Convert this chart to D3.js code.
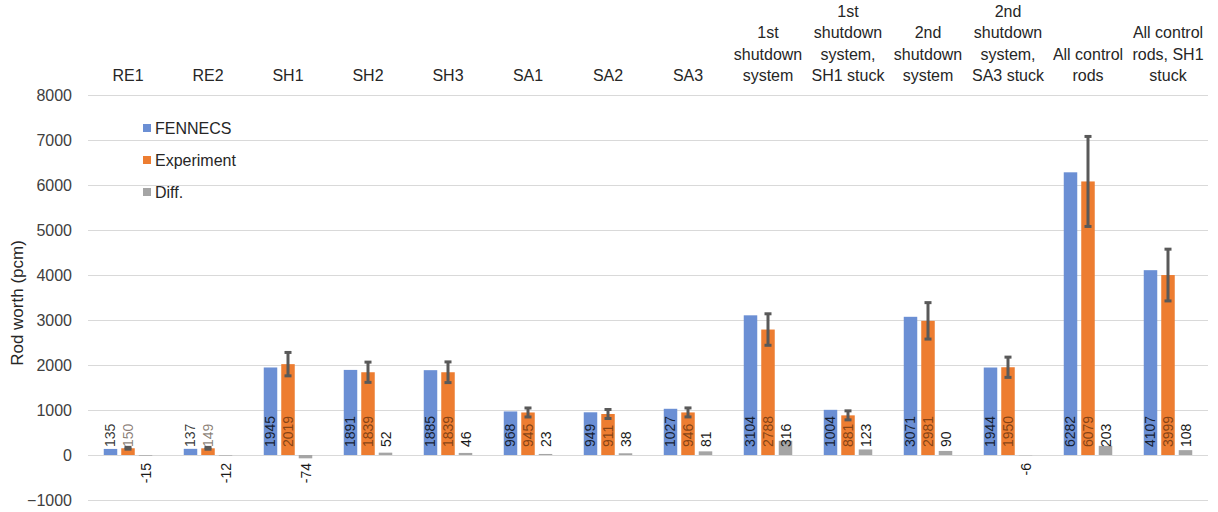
<!DOCTYPE html>
<html>
<head>
<meta charset="utf-8">
<script src="https://cdn.jsdelivr.net/npm/d3@7"></script>
<style>
  html, body { margin: 0; padding: 0; background: #fff; }
  svg { display: block; font-family: "Liberation Sans", Arial, sans-serif; }
</style>
</head>
<body>
<svg id="chart" width="1218" height="512"></svg>
<script>
// ---------- data ----------
const categories = ["RE1","RE2","SH1","SH2","SH3","SA1","SA2","SA3",
  "1st shutdown system","1st shutdown system, SH1 stuck",
  "2nd shutdown system","2nd shutdown system, SA3 stuck",
  "All control rods","All control rods, SH1 stuck"];
const categoryLines = [
  ["RE1"],["RE2"],["SH1"],["SH2"],["SH3"],["SA1"],["SA2"],["SA3"],
  ["1st","shutdown","system"],
  ["1st","shutdown","system,","SH1 stuck"],
  ["2nd","shutdown","system"],
  ["2nd","shutdown","system,","SA3 stuck"],
  ["All control","rods"],
  ["All control","rods, SH1","stuck"]
];
const seriesNames = ["FENNECS","Experiment","Diff."];
const fennecs    = [135,137,1945,1891,1885,968,949,1027,3104,1004,3071,1944,6282,4107];
const experiment = [150,149,2019,1839,1839,945,911,946,2788,881,2981,1950,6079,3999];
const diff       = [-15,-12,-74,52,46,23,38,81,316,123,90,-6,203,108];
const expError   = [20,20,260,225,230,100,100,100,350,100,405,225,1000,575];
const yTicks     = [-1000,0,1000,2000,3000,4000,5000,6000,7000,8000];
const yTitle     = "Rod worth (pcm)";

// ---------- layout ----------
const svg = d3.select("#chart");
const pLeft = 88, pRight = 1208, pTop = 95, pBottom = 500;
const colors = {"FENNECS":"#6b8fd4","Experiment":"#ed7d31","Diff.":"#a5a5a5"};
const values = {"FENNECS":fennecs,"Experiment":experiment,"Diff.":diff};

const x = d3.scaleBand().domain(categories).range([pLeft, pRight]).padding(0);
const xs = d3.scaleBand().domain(seriesNames).range([0, x.bandwidth()])
  .paddingInner(0.2286).paddingOuter(0.9);
const y = d3.scaleLinear().domain([-1000, 8000]).range([pBottom, pTop]);

// gridlines
const grid = svg.append("g").attr("transform", `translate(${pLeft},0)`)
  .call(d3.axisLeft(y).tickValues(yTicks).tickSize(-(pRight-pLeft)).tickFormat(""));
grid.select(".domain").remove();
grid.selectAll("line").attr("stroke", "#d9d9d9").attr("stroke-width", 1);

// y axis labels
const yAxis = svg.append("g").attr("transform", `translate(${pLeft},0)`)
  .call(d3.axisLeft(y).tickValues(yTicks).tickSize(0).tickPadding(16).tickFormat(d3.format("d")));
yAxis.select(".domain").remove();
yAxis.selectAll("text").attr("font-size", 16).attr("fill", "#404040")
  .attr("font-family", "Liberation Sans, Arial, sans-serif");

// y title
svg.append("text")
  .attr("transform", `translate(22.5,303) rotate(-90)`)
  .attr("text-anchor", "middle").attr("font-size", 17).attr("fill", "#262626")
  .text(yTitle);

// category labels (top)
const catG = svg.append("g");
categories.forEach((c, i) => {
  const lines = categoryLines[i];
  const t = catG.append("text")
    .attr("x", x(c) + x.bandwidth()/2)
    .attr("text-anchor", "middle").attr("font-size", 16).attr("fill", "#262626");
  lines.forEach((ln, j) => {
    t.append("tspan").attr("x", x(c) + x.bandwidth()/2)
      .attr("y", 81 - (lines.length - 1 - j) * 21.3)
      .text(ln);
  });
});

// bars
seriesNames.forEach(s => {
  svg.append("g").selectAll("rect")
    .data(categories.map((c, i) => ({c, v: values[s][i]})))
    .join("rect")
    .attr("x", d => x(d.c) + xs(s))
    .attr("width", xs.bandwidth())
    .attr("y", d => y(Math.max(0, d.v)))
    .attr("height", d => Math.abs(y(d.v) - y(0)))
    .attr("fill", colors[s]);
});

// error bars on Experiment
const eg = svg.append("g").attr("stroke", "#595959");
categories.forEach((c, i) => {
  const cx = x(c) + xs("Experiment") + xs.bandwidth()/2;
  const hi = y(experiment[i] + expError[i]), lo = y(experiment[i] - expError[i]);
  eg.append("line").attr("x1", cx).attr("x2", cx).attr("y1", hi).attr("y2", lo).attr("stroke-width", 3);
  eg.append("line").attr("x1", cx-3.5).attr("x2", cx+3.5).attr("y1", hi).attr("y2", hi).attr("stroke-width", 3);
  eg.append("line").attr("x1", cx-3.5).attr("x2", cx+3.5).attr("y1", lo).attr("y2", lo).attr("stroke-width", 3);
});

// data labels
const labelStyle = {
  "FENNECS": {fill:"#000", op:0.8},
  "Experiment": {fill:"#2a1000", op:0.55},
  "Diff.": {fill:"#1a1a1a", op:1}
};
seriesNames.forEach(s => {
  svg.append("g").selectAll("text")
    .data(categories.map((c, i) => ({c, v: values[s][i]})))
    .join("text")
    .attr("transform", d => {
      const cx = x(d.c) + xs(s) + xs.bandwidth()/2 + 5;
      const yy = d.v >= 0 ? y(0) - 8 : y(0) + 8;
      return `translate(${cx},${yy}) rotate(-90)`;
    })
    .attr("text-anchor", d => d.v >= 0 ? "start" : "end")
    .attr("font-size", 14)
    .attr("fill", labelStyle[s].fill)
    .attr("fill-opacity", labelStyle[s].op)
    .text(d => d.v);
});

// legend
const lg = svg.append("g");
seriesNames.forEach((s, i) => {
  const ly = 128 + i * 32;
  lg.append("rect").attr("x", 143).attr("y", ly - 4).attr("width", 8).attr("height", 8).attr("fill", colors[s]);
  lg.append("text").attr("x", 155).attr("y", ly).attr("dy", "0.35em")
    .attr("font-size", 16).attr("fill", "#262626").text(s);
});
</script>
</body>
</html>
